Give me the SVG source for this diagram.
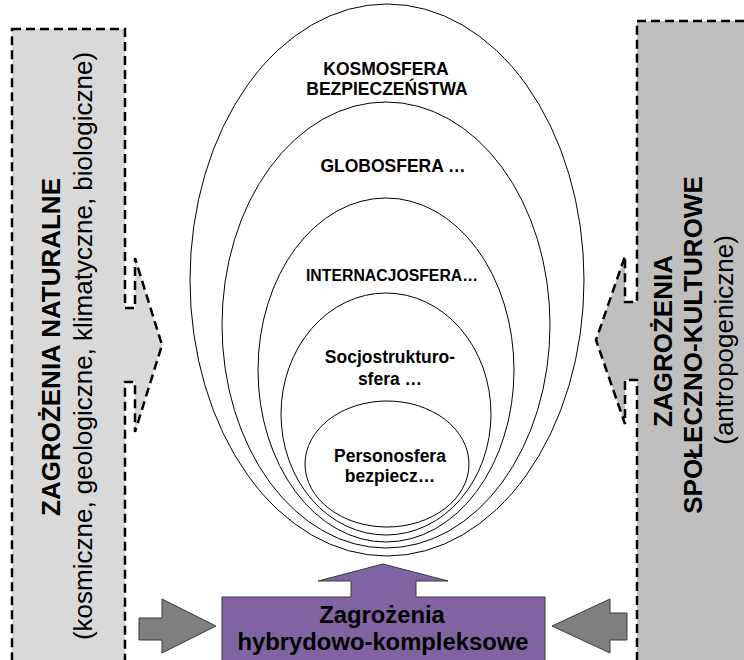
<svg xmlns="http://www.w3.org/2000/svg" width="744" height="660" viewBox="0 0 744 660">
  <style>
    text { font-family: "Liberation Sans", Arial, sans-serif; fill: #000; }
    .b { font-weight: bold; }
    .sphere { fill: none; stroke: #000; stroke-width: 1; }
    .panel { stroke: #000; stroke-width: 2.5; stroke-dasharray: 9 5; }
    .blk { fill: #7f7f7f; stroke: #3a3a3a; stroke-width: 1; }
    .pt { font-size: 26px; }
    .st { font-size: 17.5px; font-weight: bold; }
  </style>
  <rect width="744" height="660" fill="#fff"/>

  <!-- natural threats panel with its notched arrow -->
  <g id="natural">
    <path class="panel" fill="#d9d9d9" d="M12,29 H125 V308 H135 V258 L162,345 L135,432 V382 H125 V664 H12 Z"/>
    <text class="pt b" text-anchor="middle" transform="translate(60,347) rotate(-90)">ZAGROŻENIA NATURALNE</text>
    <text class="pt" text-anchor="middle" transform="translate(92,346) rotate(-90)">(kosmiczne, geologiczne, klimatyczne, biologiczne)</text>
  </g>

  <!-- socio-cultural threats panel with its notched arrow -->
  <g id="sociocultural">
    <path class="panel" fill="#bfbfbf" d="M637,21 H748 V664 H637 V380 H625 V424 L596,340 L625,256 V302 H637 Z"/>
    <text class="pt b" text-anchor="middle" transform="translate(672,341) rotate(-90)">ZAGROŻENIA</text>
    <text class="pt b" text-anchor="middle" transform="translate(702,345) rotate(-90)">SPOŁECZNO-KULTUROWE</text>
    <text class="pt" text-anchor="middle" transform="translate(733,340) rotate(-90)">(antropogeniczne)</text>
  </g>

  <!-- nested security spheres -->
  <g id="kosmosfera">
    <ellipse class="sphere" cx="387" cy="280" rx="197" ry="276"/>
    <text class="st" x="386" y="75" text-anchor="middle">KOSMOSFERA</text>
    <text class="st" x="387" y="95" text-anchor="middle">BEZPIECZEŃSTWA</text>
  </g>
  <g id="globosfera">
    <ellipse class="sphere" cx="386" cy="325" rx="164" ry="223"/>
    <text class="st" x="393" y="172" text-anchor="middle">GLOBOSFERA …</text>
  </g>
  <g id="internacjosfera">
    <ellipse class="sphere" cx="386" cy="370" rx="128" ry="172"/>
    <text class="b" x="392" y="281" text-anchor="middle" font-size="15.8">INTERNACJOSFERA…</text>
  </g>
  <g id="socjostrukturosfera">
    <ellipse class="sphere" cx="386" cy="414" rx="105" ry="121"/>
    <text class="st" x="390" y="363" text-anchor="middle">Socjostrukturo-</text>
    <text class="st" x="390" y="385" text-anchor="middle">sfera …</text>
  </g>
  <g id="personosfera">
    <ellipse class="sphere" cx="387" cy="464" rx="82" ry="63"/>
    <text class="st" x="390" y="462" text-anchor="middle">Personosfera</text>
    <text class="st" x="390" y="482" text-anchor="middle">bezpiecz…</text>
  </g>

  <!-- hybrid threats box with upward arrow -->
  <g id="hybrid">
    <path fill="#8064a2" stroke="#3a3a3a" stroke-width="1" d="M222,597 H351 V581 H318 L383,564 L448,581 H416 V597 H545 V664 H222 Z"/>
    <text class="b" x="382" y="623" text-anchor="middle" font-size="23.8">Zagrożenia</text>
    <text class="b" x="383" y="650" text-anchor="middle" font-size="23.8">hybrydowo-kompleksowe</text>
  </g>

  <!-- block arrows feeding the hybrid box -->
  <g id="connectors">
    <path class="blk" d="M139,618 H162 V599 L216,626 L162,653 V640 H139 Z"/>
    <path class="blk" d="M627,613 H610 V599 L552,626 L610,653 V640 H627 Z"/>
  </g>
</svg>
